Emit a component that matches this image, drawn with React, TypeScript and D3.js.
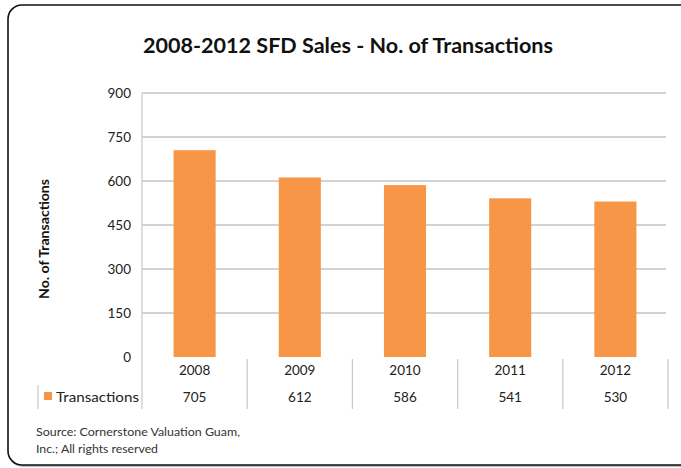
import React from "react";
import * as d3 from "d3";

const years = ["2008", "2009", "2010", "2011", "2012"];
const transactions = [705, 612, 586, 541, 530];
const yTicks = [0, 150, 300, 450, 600, 750, 900];
const seriesName = "Transactions";
const title = "2008-2012 SFD Sales - No. of Transactions";
const yTitle = "No. of Transactions";
const sourceLines = ["Source: Cornerstone Valuation Guam,", "Inc.; All rights reserved"];
const sourceWidths = [204, 122];

export default function App() {
  const W = 681, H = 468;
  const left = 142, right = 668, top = 93, bottom = 357;
  const x = d3.scaleBand<string>().domain(years).range([left, right]).paddingInner(0).paddingOuter(0);
  const y = d3.scaleLinear().domain([0, 900]).range([bottom, top]);
  const barW = x.bandwidth() * 0.4;
  const font = "Lato, 'Open Sans', sans-serif";
  const row1 = 375, row2 = 402, tableBottom = 409;
  const bounds = [left, ...years.map((yy) => (x(yy) as number) + x.bandwidth())];
  return (
    <svg width={W} height={H} style={{ position: "absolute", left: 0, top: 0, background: "#fff" }}>
      <rect x={9} y={6} width={690} height={460} rx={14} fill="none" stroke="#bbb" strokeWidth={2} />
      <rect x={8} y={5} width={690} height={460} rx={14} fill="#fff" stroke="#111" strokeWidth={1.6} />
      <text x={348} y={53} textAnchor="middle" fontFamily={font} fontWeight="bold" fontSize={21} textLength={410} lengthAdjust="spacingAndGlyphs" fill="#111">{title}</text>
      {yTicks.map((t) => (
        <g key={t}>
          {t > 0 && <line x1={left} x2={right - 2} y1={y(t)} y2={y(t)} stroke="#a6a6a6" strokeWidth={1} />}
          <text x={131} y={y(t) + 5} textAnchor="end" fontFamily={font} fontSize={13.5} fill="#222">{t}</text>
        </g>
      ))}
      <line x1={left} x2={left} y1={top} y2={tableBottom} stroke="#c8c8c8" strokeWidth={1.2} />
      <text transform={`translate(49,239) rotate(-90)`} textAnchor="middle" fontFamily={font} fontWeight="bold" fontSize={12.5} textLength={120} lengthAdjust="spacingAndGlyphs" fill="#111">{yTitle}</text>
      {years.map((yy, i) => {
        const cx = (x(yy) as number) + x.bandwidth() / 2;
        return (
          <g key={yy}>
            <rect x={cx - barW / 2} y={y(transactions[i])} width={barW} height={bottom - y(transactions[i])} fill="#F79646" />
            <text x={cx} y={row1} textAnchor="middle" fontFamily={font} fontSize={13.5} fill="#222">{yy}</text>
            <text x={cx} y={row2} textAnchor="middle" fontFamily={font} fontSize={13.5} fill="#222">{transactions[i]}</text>
          </g>
        );
      })}
      {bounds.slice(1).map((b, i) => (
        <line key={i} x1={b} x2={b} y1={bottom + 2} y2={tableBottom} stroke="#c8c8c8" strokeWidth={1.2} />
      ))}
      <line x1={38} x2={38} y1={385} y2={tableBottom} stroke="#c8c8c8" strokeWidth={1.2} />
      <rect x={44} y={392} width={8} height={8} fill="#F79646" />
      <text x={56} y={row2} fontFamily={font} fontSize={14} textLength={83} lengthAdjust="spacingAndGlyphs" fill="#222">{seriesName}</text>
      {sourceLines.map((s, i) => (
        <text key={i} x={36} y={436 + i * 17} fontFamily={font} fontSize={11} textLength={sourceWidths[i]} lengthAdjust="spacingAndGlyphs" fill="#333">{s}</text>
      ))}
    </svg>
  );
}
